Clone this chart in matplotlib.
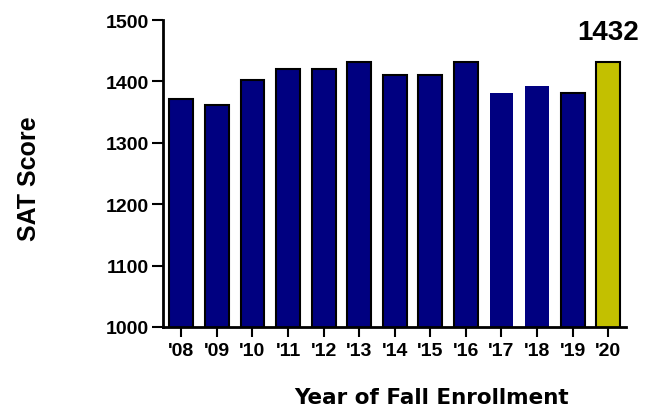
import matplotlib
matplotlib.use('Agg')
import matplotlib.pyplot as plt

# SAT scores by year of fall enrollment
years = ["'08", "'09", "'10", "'11", "'12", "'13", "'14",
         "'15", "'16", "'17", "'18", "'19", "'20"]
scores = [1372, 1362, 1402, 1421, 1421, 1432, 1411,
          1411, 1432, 1381, 1392, 1382, 1432]
yticks = [1000, 1100, 1200, 1300, 1400, 1500]

plt.rcParams['font.family'] = ['Liberation Sans', 'DejaVu Sans']

fig = plt.figure(figsize=(6.46, 4.14), dpi=100)
ax = fig.add_axes([0.252, 0.208, 0.717, 0.741])

colors = ['#000080'] * (len(scores) - 1) + ['#c3c000']
# '17 and '18 bars have no outline in the original
edges = ['black'] * len(scores)
edges[9] = edges[10] = 'none'
x = range(len(scores))
ax.bar(x, scores, width=0.67, color=colors, edgecolor=edges,
       linewidth=1.5)

ax.set_ylim(1000, 1500)
ax.set_xlim(-0.52, 12.5)
ax.set_yticks(yticks)
ax.set_xticks(list(x))
ax.set_xticklabels(years)
ax.tick_params(axis='both', labelsize=14, width=1.5)
ax.tick_params(axis='y', length=8, pad=2)
ax.tick_params(axis='x', length=7, pad=4)
for lbl in ax.get_xticklabels() + ax.get_yticklabels():
    lbl.set_fontweight('bold')

for s in ['top', 'right']:
    ax.spines[s].set_visible(False)
for s in ['left', 'bottom']:
    ax.spines[s].set_linewidth(2)

# highlight latest value
ax.text(12, 1460, str(scores[-1]), ha='center', va='bottom',
        fontsize=20, fontweight='bold')

fig.text(0.045, 0.568, 'SAT Score', rotation=90, ha='center', va='center',
         fontsize=18, fontweight='bold')
fig.text(0.668, 0.039, 'Year of Fall Enrollment', ha='center', va='center',
         fontsize=15.5, fontweight='bold', family=['DejaVu Sans'])

fig.savefig('out.png', dpi=100)
